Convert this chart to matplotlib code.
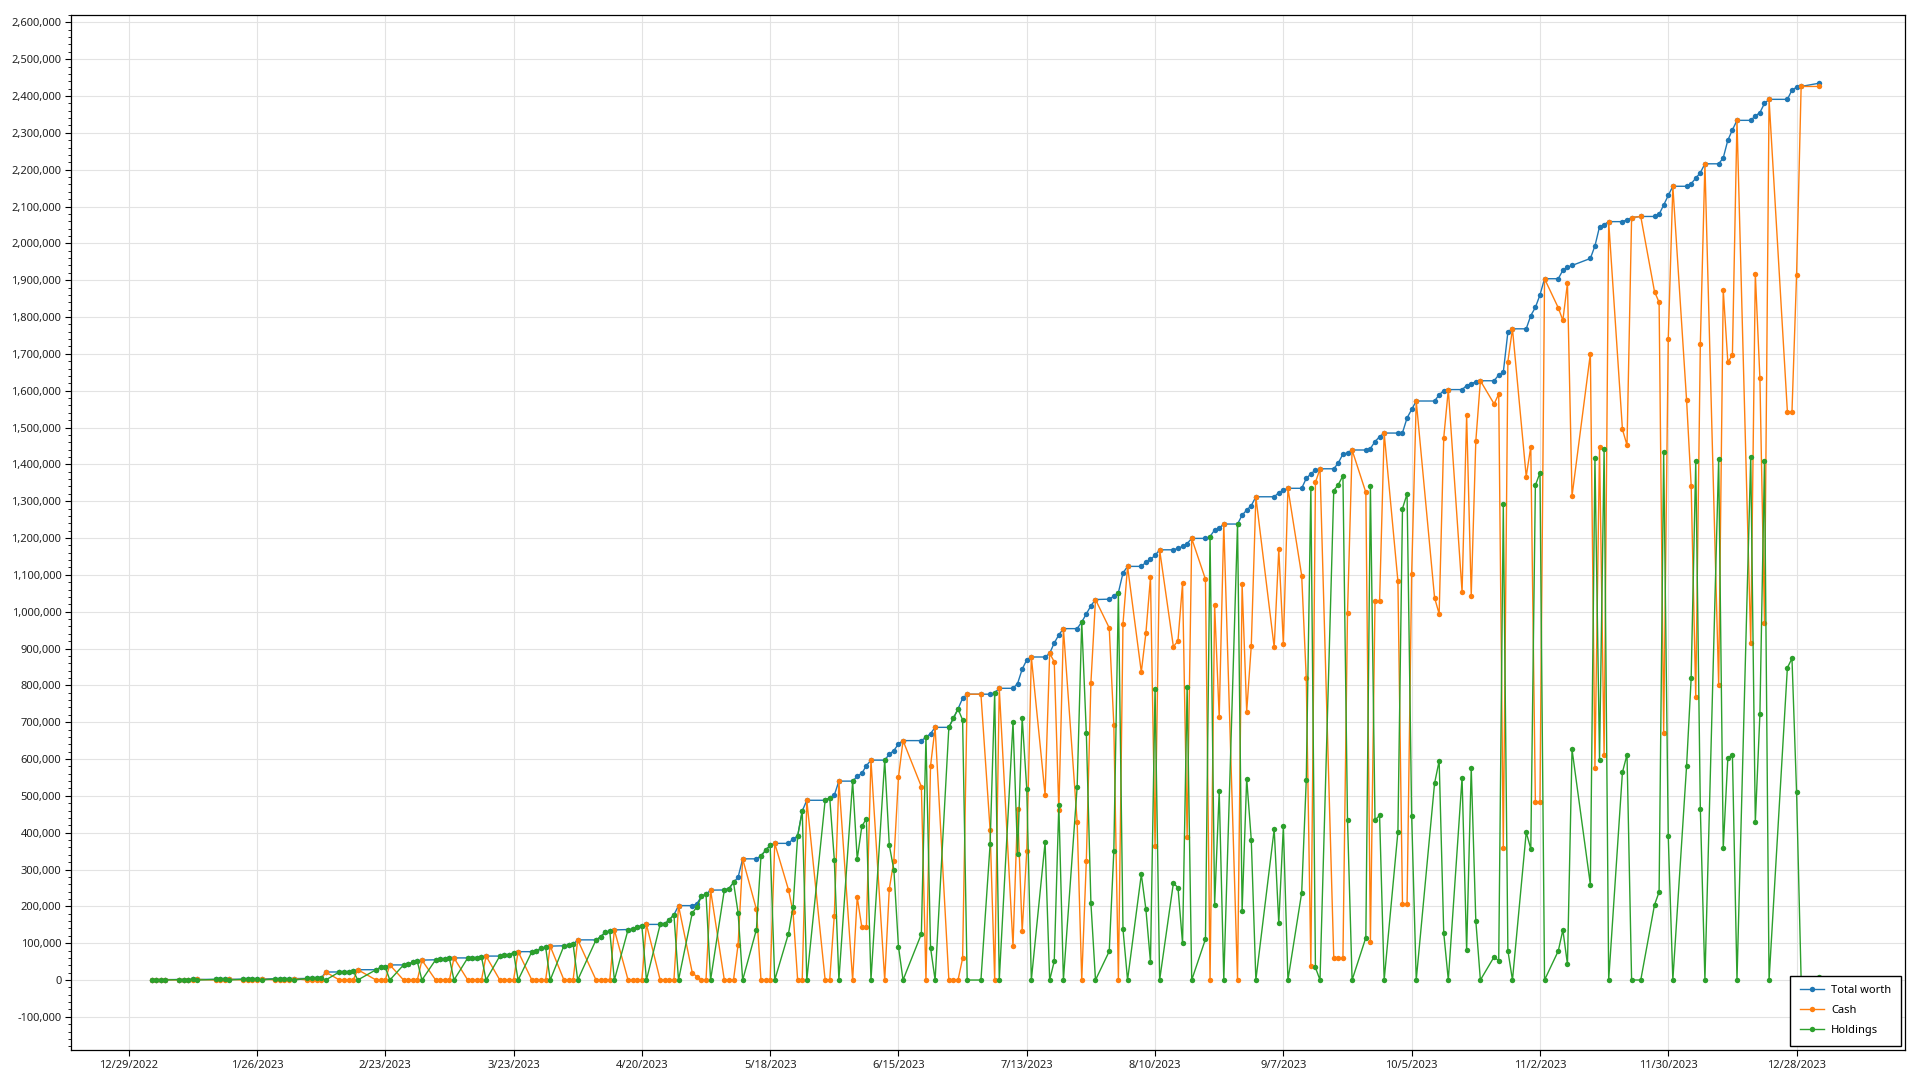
import matplotlib
matplotlib.use('Agg')
import matplotlib.pyplot as plt
import matplotlib.ticker as mticker
import pandas as pd

plt.rcParams['font.family'] = ['Noto Sans', 'DejaVu Sans']

# trading days (days the data has no row for are dropped)
holidays = ['2023-01-02', '2023-01-16', '2023-02-20', '2023-04-07', '2023-05-29',
            '2023-06-19', '2023-07-04', '2023-09-04', '2023-10-09', '2023-11-10',
            '2023-11-23', '2023-12-25', '2024-01-01']
dates = pd.bdate_range('2023-01-03', '2024-01-02', freq='C', holidays=holidays)

# values in thousands, one row per week
total_k = [
    1.0, 1.1, 1.15, 1.2,
    1.3, 1.35, 1.4, 1.5, 1.55,
    1.7, 1.8, 1.9, 2.0,
    2.2, 2.4, 2.5, 2.7, 2.9,
    3.1, 3.3, 3.5, 3.7, 3.9,
    4.2, 4.4, 4.6, 4.8, 21.7,
    22, 22, 23, 25, 28,
    28, 34, 35, 41,
    41, 43, 48, 50.5, 54,
    55, 57, 58, 58.5, 60,
    60, 60.5, 61, 63, 65,
    65, 67, 69, 74, 77,
    77, 78, 86, 89, 92,
    93, 94, 97, 109,
    109, 117, 130, 132, 136,
    137, 137.5, 143, 148, 151,
    151, 152, 164, 177, 202,
    202, 207, 227, 233, 244,
    244.5, 248, 265, 279, 329,
    329, 337, 352, 366, 371,
    371, 383, 391, 459, 488,
    488, 495, 502, 540,
    540, 553, 561, 582, 597,
    597, 613, 623, 641, 650,
    650, 659, 669, 686,
    686, 711, 736, 765, 776,
    776, 776, 780, 792,
    792, 805, 844, 869, 877,
    877, 887, 915, 937, 954,
    954, 972, 994, 1016, 1033,
    1034, 1042, 1052, 1105, 1123,
    1123, 1134, 1142, 1153, 1168,
    1168, 1172, 1177, 1185, 1199,
    1199, 1204, 1222, 1227, 1238,
    1238, 1262, 1276, 1288, 1312,
    1312, 1323, 1330, 1335,
    1335, 1362, 1374, 1385, 1388,
    1388, 1404, 1428, 1431, 1439,
    1439, 1443, 1462, 1475, 1485,
    1485, 1486, 1526, 1549, 1572,
    1572, 1589, 1600, 1603,
    1603, 1614, 1619, 1624, 1627,
    1627, 1643, 1650, 1759, 1768,
    1768, 1804, 1826, 1860, 1904,
    1904, 1927, 1935, 1940,
    1959, 1993, 2045, 2051, 2059,
    2059, 2064, 2070, 2073,
    2073, 2079, 2104, 2130, 2155,
    2155, 2162, 2177, 2192, 2216,
    2216, 2232, 2280, 2308, 2334,
    2334, 2346, 2355, 2380, 2391,
    2391, 2416, 2424, 2426,
    2435,
]

cash_k = [
    0, 0, 0, 1.2,
    0, 0, 0, 0, 1.55,
    0, 0, 0, 2.0,
    0, 0, 0, 0, 2.9,
    0, 0, 0, 0, 3.9,
    0, 0, 0, 0, 21.7,
    0, 0, 0, 0, 28,
    0, 0, 0, 41,
    0, 0, 0, 0, 54,
    0, 0, 0, 0, 60,
    0, 0, 0, 0, 65,
    0, 0, 0, 0, 77,
    0, 0, 0, 0, 92,
    0, 0, 0, 109,
    0, 0, 0, 0, 136,
    0, 0, 0, 0, 151,
    0, 0, 0, 0, 202,
    20, 9, 0, 0, 244,
    0, 0, 0, 96, 329,
    192, 0, 0, 0, 371,
    245, 184, 0, 0, 488,
    0, 0, 175, 540,
    0, 225, 144, 144, 597,
    0, 247, 324, 550, 650,
    525, 0, 581, 686,
    0, 0, 0, 59, 776,
    776, 408, 0, 792,
    92, 464, 132, 350, 877,
    503, 887, 864, 461, 954,
    429, 0, 323, 807, 1033,
    956, 693, 0, 967, 1123,
    836, 942, 1093, 363, 1168,
    905, 921, 1077, 389, 1199,
    1088, 0, 1017, 714, 1238,
    0, 1074, 729, 908, 1312,
    903, 1169, 913, 1335,
    1098, 819, 37, 1351, 1388,
    59, 59, 59, 996, 1439,
    1324, 103, 1028, 1028, 1485,
    1083, 206, 206, 1103, 1572,
    1038, 994, 1472, 1603,
    1054, 1533, 1043, 1463, 1627,
    1564, 1591, 358, 1679, 1768,
    1367, 1448, 483, 483, 1904,
    1825, 1791, 1892, 1314,
    1700, 575, 1448, 610, 2059,
    1495, 1452, 2070, 2073,
    1869, 1840, 670, 1740, 2155,
    1574, 1342, 768, 1727, 2216,
    801, 1874, 1678, 1696, 2334,
    914, 1918, 1634, 970, 2391,
    1543, 1543, 1913, 2426,
    2426,
]

holdings_k = [
    1.0, 1.1, 1.15, 0,
    1.3, 1.35, 1.4, 1.5, 0,
    1.7, 1.8, 1.9, 0,
    2.2, 2.4, 2.5, 2.7, 0,
    3.1, 3.3, 3.5, 3.7, 0,
    4.2, 4.4, 4.6, 4.8, 0,
    22, 22, 23, 25, 0,
    28, 34, 35, 0,
    41, 43, 48, 50.5, 0,
    55, 57, 58, 58.5, 0,
    60, 60.5, 61, 63, 0,
    65, 67, 69, 74, 0,
    77, 78, 86, 89, 0,
    93, 94, 97, 0,
    109, 117, 130, 132, 0,
    137, 137.5, 143, 148, 0,
    151, 152, 164, 177, 0,
    182, 198, 227, 233, 0,
    244.5, 248, 265, 183, 0,
    137, 337, 352, 366, 0,
    126, 199, 391, 459, 0,
    488, 495, 327, 0,
    540, 328, 417, 438, 0,
    597, 366, 299, 91, 0,
    125, 659, 88, 0,
    686, 711, 736, 706, 0,
    0, 368, 780, 0,
    700, 341, 712, 519, 0,
    374, 0, 51, 476, 0,
    525, 972, 671, 209, 0,
    78, 349, 1052, 138, 0,
    287, 192, 49, 790, 0,
    263, 251, 100, 796, 0,
    111, 1204, 205, 513, 0,
    1238, 188, 547, 380, 0,
    409, 154, 417, 0,
    237, 543, 1337, 34, 0,
    1329, 1345, 1369, 435, 0,
    115, 1340, 434, 447, 0,
    402, 1280, 1320, 446, 0,
    534, 595, 128, 0,
    549, 81, 576, 161, 0,
    63, 52, 1292, 80, 0,
    401, 356, 1343, 1377, 0,
    79, 136, 43, 626,
    259, 1418, 597, 1441, 0,
    564, 612, 0, 0,
    204, 239, 1434, 390, 0,
    581, 820, 1409, 465, 0,
    1415, 358, 602, 612, 0,
    1420, 428, 721, 1410, 0,
    848, 873, 511, 0,
    9,
]

series = [
    ('Total worth', total_k, '#1f77b4'),
    ('Cash', cash_k, '#ff7f0e'),
    ('Holdings', holdings_k, '#2ca02c'),
]

fig = plt.figure(figsize=(19.2, 10.8), dpi=100)
ax = fig.add_axes([71 / 1920, 30 / 1080, (1905 - 71) / 1920, 1035 / 1080])

for name, vals, color in series:
    ax.plot(dates, [v * 1000 for v in vals], color=color, lw=1.0, marker='o',
            markersize=3.9, markeredgewidth=0, label=name)

# axes
ax.set_xlim(pd.Timestamp('2022-12-16 10:00'), pd.Timestamp('2024-01-20 16:00'))
ax.set_ylim(-190000, 2620000)

xticks = pd.date_range('2022-12-29', periods=14, freq='28D')
ax.set_xticks(xticks)
ax.set_xticklabels([f'{d.month}/{d.day}/{d.year}' for d in xticks])
ax.yaxis.set_major_locator(mticker.MultipleLocator(100000))
ax.yaxis.set_minor_locator(mticker.MultipleLocator(20000))
ax.yaxis.set_major_formatter(mticker.FuncFormatter(lambda v, p: f'{v:,.0f}'))

ax.grid(True, which='major', color='#e3e3e3', lw=0.8)
ax.set_axisbelow(True)
ax.tick_params(axis='both', which='major', labelsize=8, color='black', length=4,
               width=0.8, pad=3, labelcolor='#222222')
ax.tick_params(axis='y', which='minor', length=2.5, width=0.6)
for sp in ax.spines.values():
    sp.set_color('black')
    sp.set_linewidth(0.9)

leg = ax.legend(loc='lower right', fontsize=8, frameon=True, fancybox=False,
                edgecolor='black', framealpha=1, borderpad=0.85, handlelength=2.2,
                handletextpad=0.6, labelspacing=0.8, borderaxespad=0.4)
leg.get_frame().set_linewidth(1.0)
leg.set_zorder(5)

fig.savefig('out.png', dpi=100)
